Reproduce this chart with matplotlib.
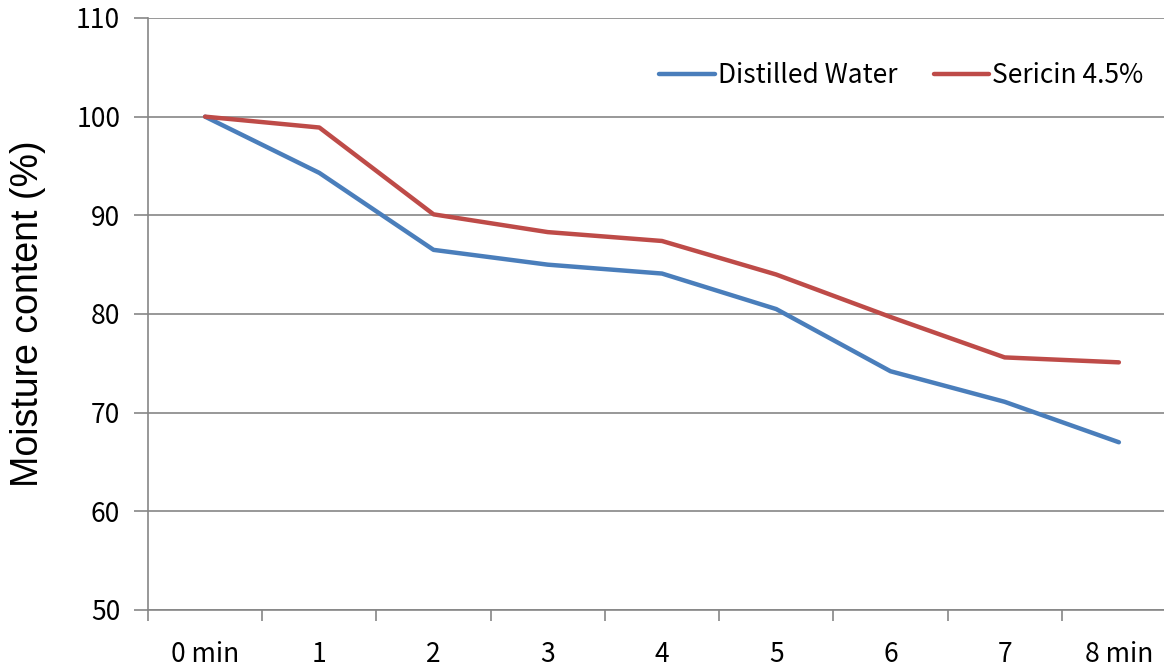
import matplotlib.pyplot as plt

categories = ['0 min', '1', '2', '3', '4', '5', '6', '7', '8 min']
distilled = [100, 94.3, 86.5, 85.0, 84.1, 80.5, 74.2, 71.1, 67.0]
sericin = [100, 98.9, 90.1, 88.3, 87.4, 84.0, 79.7, 75.6, 75.1]

plt.rcParams['font.family'] = ['Noto Sans CJK KR', 'DejaVu Sans']

fig = plt.figure(figsize=(11.64, 6.69), dpi=100)
ax = fig.add_axes([148 / 1164, 1 - 610 / 669, 1 - 148 / 1164, (610 - 18) / 669])

x = range(len(categories))
ax.plot(x, distilled, color='#4A7EBB', lw=3.2, label='Distilled Water', solid_capstyle='round')
ax.plot(x, sericin, color='#BE4B48', lw=3.2, label='Sericin 4.5%', solid_capstyle='round')

ax.set_ylim(50, 110)
ax.set_yticks(range(50, 111, 10))
ax.set_xlim(-0.5, 8.5 - 12 / 114.3)
ax.set_xticks(x)
ax.set_xticklabels(categories)
ax.set_xticks([i + 0.5 for i in range(-1, 8)], minor=True)

grey = '#868686'
ax.grid(axis='y', color=grey, lw=1.2)
ax.set_axisbelow(True)
for s in ['top', 'right']:
    ax.spines[s].set_visible(False)
for s in ['left', 'bottom']:
    ax.spines[s].set_color(grey)
    ax.spines[s].set_linewidth(1.2)

ax.tick_params(axis='x', which='major', length=0, labelsize=19, pad=22)
ax.tick_params(axis='x', which='minor', length=8, color=grey, width=1.2)
ax.tick_params(axis='y', length=10, color=grey, width=1.2, labelsize=19, pad=10)

ax.set_ylabel('Moisture content (%)', fontsize=27, family=['Liberation Sans'], labelpad=22)

ax.legend(loc='upper right', bbox_to_anchor=(1.003, 0.965), ncol=2, frameon=False,
          fontsize=19, handlelength=2.1, handletextpad=0.1, columnspacing=1.4)

fig.savefig('out.png', dpi=100)
